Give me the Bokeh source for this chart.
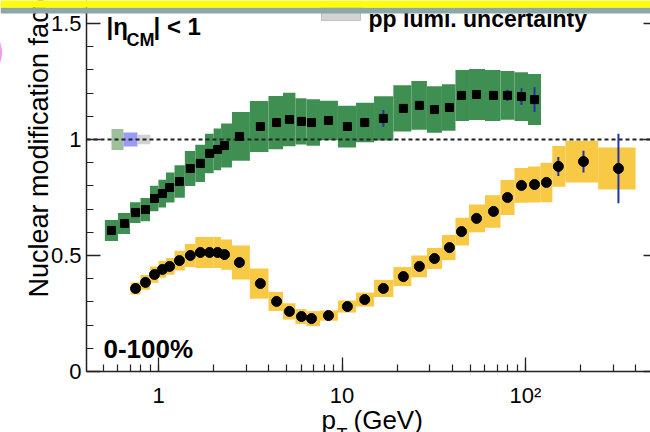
import numpy as np
from bokeh.plotting import figure
from bokeh.models import (Range1d, SingleIntervalTicker, LogTicker, CustomJSTickFormatter,
                          LinearAxis, Label, BoxAnnotation)
from bokeh.embed import file_html
from bokeh.resources import INLINE

# ---------------- data ----------------
pt_green = [0.554, 0.653, 0.750, 0.849, 0.951, 1.05, 1.15, 1.30, 1.49, 1.69, 1.90, 2.10, 2.29,
            2.76, 3.59, 4.40, 5.17, 6.01, 6.82, 8.44, 10.7, 13.3, 16.8, 21.6, 26.4, 31.9, 38.5,
            44.8, 54.1, 66.9, 79.8, 95.1, 112]
raa_green = [0.608, 0.638, 0.685, 0.698, 0.746, 0.767, 0.793, 0.819, 0.875, 0.897, 0.940, 0.957,
             0.974, 1.013, 1.056, 1.073, 1.086, 1.078, 1.073, 1.082, 1.056, 1.073, 1.091, 1.134,
             1.147, 1.129, 1.138, 1.190, 1.194, 1.190, 1.190, 1.185, 1.172]
syst_green = [0.045, 0.045, 0.045, 0.05, 0.055, 0.06, 0.065, 0.07, 0.075, 0.08, 0.085, 0.09,
              0.095, 0.105, 0.11, 0.115, 0.115, 0.10, 0.10, 0.085, 0.09, 0.085, 0.095, 0.10,
              0.105, 0.10, 0.10, 0.11, 0.11, 0.11, 0.105, 0.105, 0.11]
stat_green = [0.006] * 22 + [0.036] + [0.006] * 6 + [0.013, 0.024, 0.036, 0.053]

pt_yellow = [0.750, 0.849, 0.951, 1.05, 1.15, 1.30, 1.49, 1.69, 1.90, 2.10, 2.29, 2.76, 3.59,
             4.40, 5.17, 6.01, 6.82, 8.44, 10.7, 13.3, 16.8, 21.6, 26.4, 31.9, 38.5, 44.8, 54.1,
             66.9, 79.8, 95.1, 112, 130, 151, 207, 321]
raa_yellow = [0.358, 0.384, 0.418, 0.440, 0.453, 0.478, 0.500, 0.513, 0.513, 0.513, 0.504, 0.470,
              0.379, 0.302, 0.259, 0.237, 0.228, 0.241, 0.280, 0.310, 0.358, 0.409, 0.453, 0.487,
              0.534, 0.603, 0.660, 0.690, 0.750, 0.802, 0.806, 0.815, 0.884, 0.905, 0.875]
syst_yellow = [0.026, 0.032, 0.035, 0.036, 0.036, 0.043, 0.05, 0.067, 0.067, 0.067, 0.065, 0.073,
               0.065, 0.041, 0.035, 0.032, 0.032, 0.022, 0.026, 0.03, 0.037, 0.041, 0.047, 0.045,
               0.054, 0.06, 0.06, 0.07, 0.075, 0.075, 0.078, 0.085, 0.088, 0.09, 0.09]
stat_yellow = [0.006] * 32 + [0.041, 0.047, 0.15]
yellow_tail_edges = [140, 165, 249, 398]   # wide high-pT bins of the last three points

lumi_unc = [0.045, 0.030, 0.020]
lumi_colors = ["#9dbf9a", "#9a9af8", "#d2d2d2"]

y_ticks_major = 0.5
x_tick_text = ["1", "10", "10\u00b2"]

FONT = "Liberation Sans"
GREEN = "#3f8f52"
YELLOW = "#f7c945"
BLUE = "#2233aa"

# ---------------- geometry (canvas pixel <-> data) ----------------
W, H = 650, 432
FL, FB = 86, 371          # axis corner in canvas pixels
X1, DEC = 158.0, 183.5    # pixel of pT=1 and pixels per decade
YPX = 232.0               # pixels per unit of y


def X(px):
    return 10 ** ((px - X1) / DEC)


def Y(py):
    return (FB - py) / YPX


def edges(pt):
    pt = np.asarray(pt, float)
    mid = np.sqrt(pt[:-1] * pt[1:])
    lo = np.concatenate([[pt[0] ** 2 / mid[0]], mid])
    hi = np.concatenate([mid, [pt[-1] ** 2 / mid[-1]]])
    return lo, hi


# the frame fills the whole canvas; the axes sit at fixed locations inside it
p = figure(width=W, height=H, x_axis_type="log", output_backend="svg", toolbar_location=None,
           x_range=Range1d(X(0), X(W)), y_range=Range1d(Y(H), Y(0)),
           min_border=0)
p.outline_line_color = None
p.grid.visible = False
p.background_fill_color = "white"
p.border_fill_color = "white"

x_lo, x_hi = X(FL), X(W)
y_lo, y_hi = 0.0, Y(0)


def style_axis(ax):
    ax.axis_line_color = "#222222"
    ax.axis_line_width = 1.5
    ax.major_tick_line_color = "#222222"
    ax.major_tick_line_width = 1.3
    ax.minor_tick_line_color = "#222222"
    ax.minor_tick_line_width = 1.2
    ax.major_label_text_font = FONT
    ax.major_label_text_font_size = "22px"
    ax.major_label_text_color = "black"
    ax.major_tick_in = 14
    ax.major_tick_out = 0
    ax.minor_tick_in = 7
    ax.minor_tick_out = 0


xa = p.xaxis[0]
style_axis(xa)
xa.ticker = LogTicker(num_minor_ticks=10)
xa.formatter = CustomJSTickFormatter(args=dict(m=x_tick_text), code="""
    const k = Math.round(Math.log10(tick));
    return (k >= 0 && k < m.length) ? m[k] : '';
""")
xa.major_label_standoff = 11
xa.fixed_location = y_lo
xa.bounds = (x_lo, x_hi)

ya = p.yaxis[0]
style_axis(ya)
ya.ticker = SingleIntervalTicker(interval=y_ticks_major, num_minor_ticks=5)
ya.formatter = CustomJSTickFormatter(code="return String(Math.round(tick*10)/10);")
ya.major_label_standoff = 5
ya.fixed_location = x_lo
ya.bounds = (y_lo, y_hi)

# right axis: only the inner end of its major ticks shows at the window edge
ra = LinearAxis(ticker=SingleIntervalTicker(interval=y_ticks_major, num_minor_ticks=5),
                formatter=CustomJSTickFormatter(code="return '';"),
                axis_line_color=None, major_tick_in=7, major_tick_out=0,
                minor_tick_in=0, minor_tick_out=0, major_label_standoff=0,
                major_tick_line_color="#222222", major_tick_line_width=1.3,
                fixed_location=x_hi, bounds=(y_lo, y_hi))
p.add_layout(ra, "right")

# ---------------- systematic boxes ----------------
glo, ghi = edges(pt_green)
g = np.asarray(raa_green)
gs = np.asarray(syst_green)
p.quad(left=glo, right=ghi, bottom=g - gs, top=g + gs, fill_color=GREEN, line_color=None)

ylo, yhi = edges(pt_yellow)
ylo[-3:] = yellow_tail_edges[:-1]
yhi[-3:] = yellow_tail_edges[1:]
yv = np.asarray(raa_yellow)
ys = np.asarray(syst_yellow)
p.quad(left=ylo, right=yhi, bottom=yv - ys, top=yv + ys, fill_color=YELLOW, line_color=None)

# pp luminosity uncertainty boxes at unity
lumi_px = [111, 123, 137, 150]
for i, u in enumerate(lumi_unc):
    p.quad(left=[X(lumi_px[i])], right=[X(lumi_px[i + 1])], bottom=[1 - u], top=[1 + u],
           fill_color=lumi_colors[i], line_color=None)

# unity line across the axis frame
p.segment(x0=[x_lo], x1=[x_hi], y0=[1.0], y1=[1.0], line_color="#222222", line_width=2,
          line_dash="4 3")

# statistical error bars
gst = np.asarray(stat_green)
p.segment(x0=pt_green, x1=pt_green, y0=g - gst, y1=g + gst, line_color=BLUE, line_width=2)
yst = np.asarray(stat_yellow)
p.segment(x0=pt_yellow, x1=pt_yellow, y0=yv - yst, y1=yv + yst, line_color=BLUE, line_width=2)

# markers
p.scatter(pt_green, raa_green, marker="square", size=8, fill_color="black", line_color="black")
p.scatter(pt_yellow, raa_yellow, marker="circle", size=10, fill_color="black", line_color="black")


# ---------------- texts (canvas pixel positions, origin top-left) ----------------
def lab(px, py, text, size, bold=False, color="black", angle=0):
    p.add_layout(Label(x=px, y=py, x_units="canvas", y_units="canvas", text=text,
                       text_font=FONT, text_font_size=f"{size}px",
                       text_font_style="bold" if bold else "normal",
                       text_color=color, angle=angle, angle_units="deg",
                       text_align="left", text_baseline="alphabetic", level="overlay"))


lab(38, 297, "Nuclear modification factor", 27, angle=90)
lab(321, 419, "p", 26)
lab(336, 434, "T", 18)
lab(353, 419, "(GeV)", 26)
lab(103, 348, "0-100%", 26, bold=True)
lab(106, 26, "|\u03b7", 24, bold=True)
lab(126, 39, "CM", 18, bold=True)
lab(153, 26, "| < 1", 24, bold=True)
lab(368, 18, "pp lumi. uncertainty", 23, bold=True)
lab(-28, 52, "9", 56, bold=True, color="#ee33ee")


def cbox(l, r, t, b, fill, line=None):
    p.add_layout(BoxAnnotation(left=l, right=r, top=t, bottom=b,
                               left_units="canvas", right_units="canvas",
                               top_units="canvas", bottom_units="canvas",
                               fill_color=fill, fill_alpha=1, line_color=line,
                               line_width=1, level="overlay"))


cbox(321, 360, 6, 20, "#d3d3d3", "#666666")   # legend swatch
cbox(0, W, 7, 13, "#8fa6a8")                  # slide bands across the top
cbox(0, W, 0, 7, "#ffff00")

open("out.html", "w").write(file_html(p, INLINE))
